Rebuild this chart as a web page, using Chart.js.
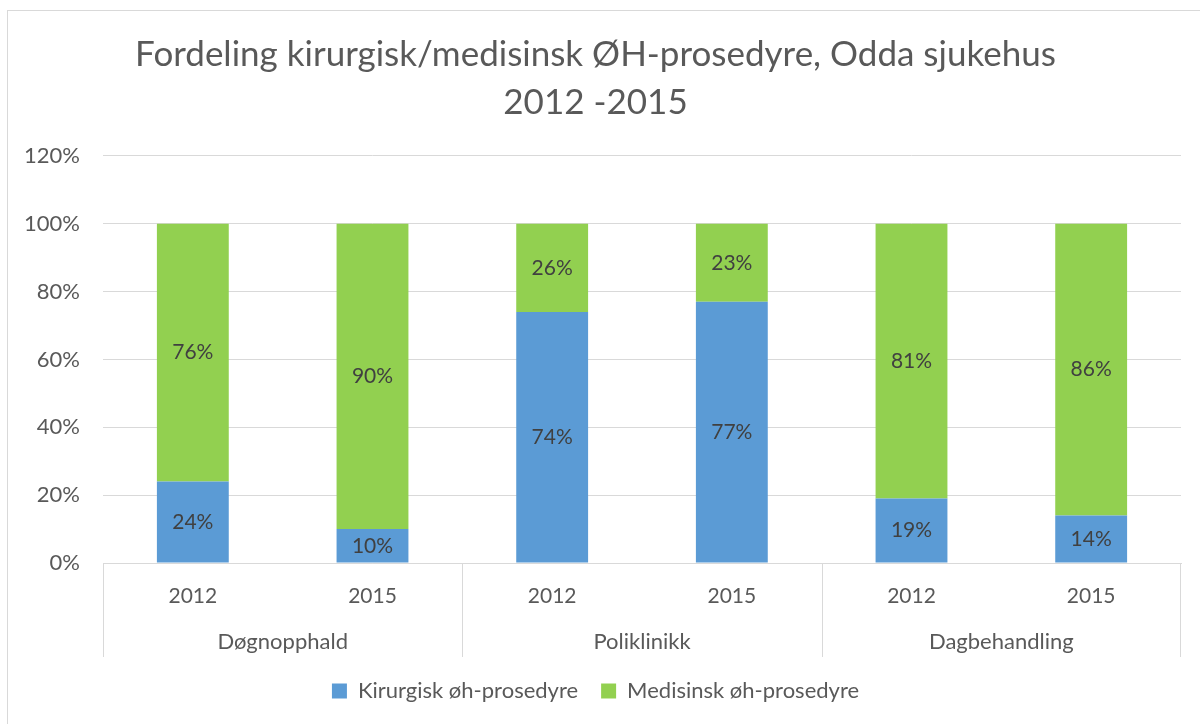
<!DOCTYPE html>
<html>
<head>
<meta charset="utf-8">
<script src="https://cdn.jsdelivr.net/npm/chart.js@4"></script>
<style>
    html, body { margin: 0; padding: 0; background: #fff; }
    #wrap { position: relative; width: 1200px; height: 724px; }
</style>
</head>
<body>
<div id="wrap"><canvas id="chart"></canvas></div>
<script>
// data
var years = ["2012", "2015", "2012", "2015", "2012", "2015"];
var groups = ["Døgnopphald", "Poliklinikk", "Dagbehandling"];
var kirurgisk = [24, 10, 74, 77, 19, 14];
var medisinsk = [76, 90, 26, 23, 81, 86];
var yTicks = [0, 20, 40, 60, 80, 100, 120];

var FONT = "Lato";
var GRID = "#d9d9d9";
var TEXT = "#595959";

// outer frame like the office chart border
var framePlugin = {
    id: "frame",
    beforeDraw: function (chart) {
        var c = chart.ctx;
        c.save();
        c.fillStyle = "#fff";
        c.fillRect(0, 0, chart.width, chart.height);
        c.strokeStyle = GRID;
        c.lineWidth = 1;
        c.strokeRect(7.5, 10.5, chart.width + 20, chart.height + 20);
        c.restore();
    },
};

// separators between the groups, running through both label rows
var groupLinesPlugin = {
    id: "groupLines",
    afterDraw: function (chart) {
        var g = chart.scales.group;
        var c = chart.ctx;
        var step = g.width / groups.length;
        c.save();
        c.strokeStyle = GRID;
        c.lineWidth = 1;
        for (var i = 0; i <= groups.length; i++) {
            var x = Math.round(g.getPixelForValue(i) - step / 2) + 0.5;
            if (i === groups.length) x = Math.round(g.getPixelForValue(i - 1) + step / 2) - 0.5;
            c.beginPath();
            c.moveTo(x, chart.chartArea.bottom);
            c.lineTo(x, g.bottom);
            c.stroke();
        }
        c.restore();
    },
};

// value labels in the middle of each segment
var valueLabelsPlugin = {
    id: "valueLabels",
    afterDatasetsDraw: function (chart) {
        var c = chart.ctx;
        c.save();
        c.font = "21px " + FONT;
        c.fillStyle = "#404040";
        c.textAlign = "center";
        c.textBaseline = "middle";
        chart.data.datasets.forEach(function (ds, di) {
            var meta = chart.getDatasetMeta(di);
            meta.data.forEach(function (bar, i) {
                var y = (bar.y + bar.base) / 2;
                c.fillText(ds.data[i] + "%", bar.x, y);
            });
        });
        c.restore();
    },
};

var ctx = document.getElementById("chart").getContext("2d");
var chart = new Chart(ctx, {
    type: "bar",
    data: {
        labels: years,
        datasets: [
            {
                label: "Kirurgisk øh-prosedyre",
                data: kirurgisk,
                backgroundColor: "#5b9bd5",
                barPercentage: 0.4,
                categoryPercentage: 1,
            },
            {
                label: "Medisinsk øh-prosedyre",
                data: medisinsk,
                backgroundColor: "#92d050",
                barPercentage: 0.4,
                categoryPercentage: 1,
            },
        ],
    },
    options: {
        responsive: true,
        maintainAspectRatio: false,
        animation: false,
        layout: {
            padding: { top: 0, left: 10, right: 19, bottom: 12 },
        },
        scales: {
            x: {
                stacked: true,
                grid: { display: false },
                border: { display: true, color: GRID },
                ticks: {
                    color: TEXT,
                    font: { family: FONT, size: 21 },
                    padding: 13,
                },
                afterFit: function (scale) {
                    scale.height = 55;
                },
            },
            group: {
                type: "category",
                labels: groups,
                position: "bottom",
                offset: true,
                grid: { display: false },
                border: { display: false },
                ticks: {
                    color: TEXT,
                    font: { family: FONT, size: 22 },
                    padding: 3,
                },
                afterFit: function (scale) {
                    scale.height = 39;
                },
            },
            y: {
                stacked: true,
                min: 0,
                max: 120,
                grid: { color: GRID, lineWidth: 1, drawTicks: false },
                border: { display: false },
                afterBuildTicks: function (scale) {
                    scale.ticks = yTicks.map(function (v) { return { value: v }; });
                },
                ticks: {
                    color: TEXT,
                    font: { family: FONT, size: 22 },
                    padding: 23,
                    callback: function (value) {
                        return value + "%";
                    },
                },
                afterFit: function (scale) {
                    scale.width = 93;
                },
            },
        },
        plugins: {
            title: {
                display: true,
                text: ["Fordeling kirurgisk/medisinsk ØH-prosedyre, Odda sjukehus", "2012 -2015"],
                color: TEXT,
                font: { family: FONT, size: 35, weight: "normal", lineHeight: 1.37 },
                padding: { top: 31, bottom: 29 },
            },
            legend: {
                position: "bottom",
                labels: {
                    color: TEXT,
                    font: { family: FONT, size: 22 },
                    boxWidth: 15,
                    boxHeight: 15,
                    padding: 23,
                },
            },
            tooltip: { enabled: false },
        },
    },
    plugins: [framePlugin, groupLinesPlugin, valueLabelsPlugin],
});
</script>
</body>
</html>
